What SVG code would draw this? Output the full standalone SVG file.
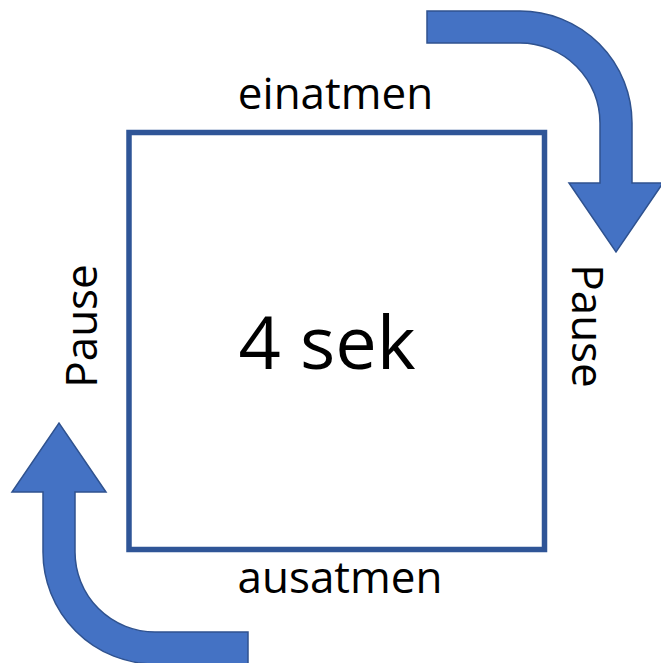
<svg xmlns="http://www.w3.org/2000/svg" width="661" height="663" viewBox="0 0 661 663">
<style>
.lbl{font-family:"Open Sans","Liberation Sans",sans-serif;font-size:44px;fill:#000;text-anchor:middle}
.big{font-size:74px}
.arrow{fill:#4472C4;stroke:#2F528F;stroke-width:1.5;stroke-linejoin:miter}
</style>
<defs>
<path id="bent" d="M427,11 H520 A112,112 0 0 1 632,123 V183 H663 L616,252 L569,183 H600 V123 A80,80 0 0 0 520,43 H427 Z"/>
</defs>
<rect width="661" height="663" fill="#fff"/>
<g id="box">
<rect x="129" y="132.5" width="415.5" height="417" fill="none" stroke="#2F5597" stroke-width="5.5"/>
<text class="lbl big" x="327" y="369">4 sek</text>
</g>
<g id="label-top"><text class="lbl" x="335.5" y="109">einatmen</text></g>
<g id="label-bottom"><text class="lbl" x="340" y="593">ausatmen</text></g>
<g id="label-right"><text class="lbl" transform="translate(572,326) rotate(90)">Pause</text></g>
<g id="label-left"><text class="lbl" transform="translate(97,326) rotate(-90)">Pause</text></g>
<g id="connectors">
<use href="#bent" class="arrow"/>
<use href="#bent" class="arrow" transform="rotate(180 337.5 337.5)"/>
</g>
</svg>
